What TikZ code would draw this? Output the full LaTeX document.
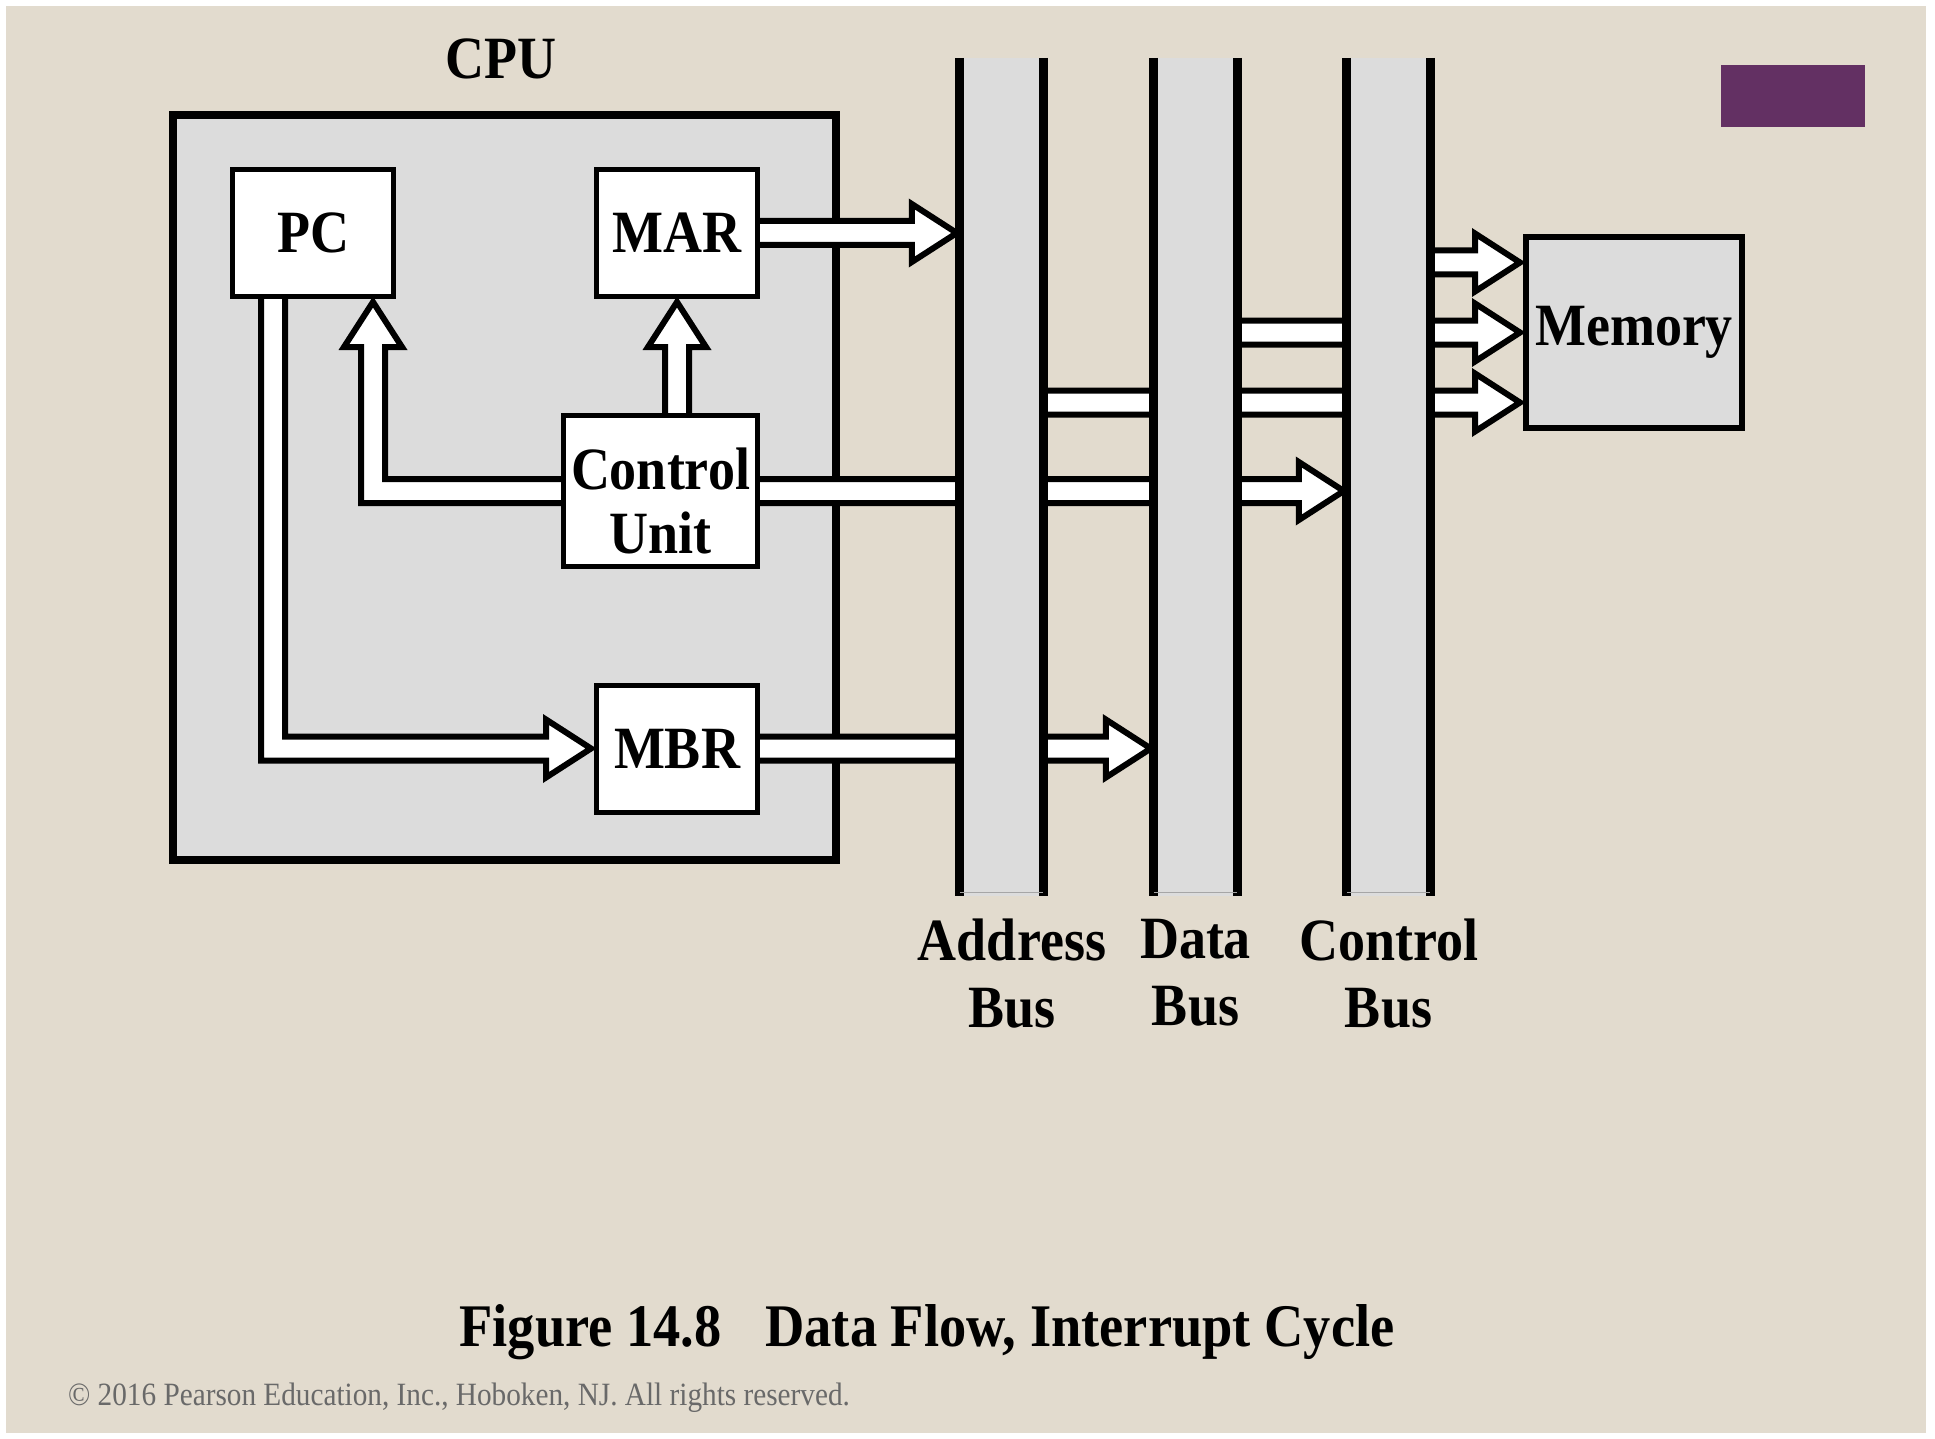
\documentclass[tikz,border=0pt]{standalone}
\usepackage{fontspec}
\setmainfont{Liberation Serif}[FakeStretch=0.9]
\usetikzlibrary{calc}
\pgfdeclarelayer{back}
\pgfdeclarelayer{flow}
\pgfsetlayers{back,flow,main}
\definecolor{paper}{RGB}{226,219,206}
\definecolor{boxgray}{RGB}{220,220,220}
\definecolor{plum}{RGB}{99,48,99}
\definecolor{notegray}{RGB}{105,105,105}

% hollow block arrows: shaft 12pt, head 29pt wide, 45pt long
\newcommand{\arrowright}[2]{%
  \draw[hollow] let \p1=(#1), \p2=(#2) in
    (\x1,\y2+12pt) -- (\x2-48pt,\y2+12pt) -- (\x2-48pt,\y2+29pt) -- (\x2-3pt,\y2)
    -- (\x2-48pt,\y2-29pt) -- (\x2-48pt,\y2-12pt) -- (\x1,\y2-12pt);}
\newcommand{\arrowup}[2]{%
  \draw[hollow] let \p1=(#1), \p2=(#2) in
    (\x2-12pt,\y1) -- (\x2-12pt,\y2-48pt) -- (\x2-29pt,\y2-48pt) -- (\x2,\y2-3pt)
    -- (\x2+29pt,\y2-48pt) -- (\x2+12pt,\y2-48pt) -- (\x2+12pt,\y1);}
\newcommand{\arrowleftup}[2]{%
  \draw[hollow] let \p1=(#1), \p2=(#2) in
    (\x1,\y1-12pt) -- (\x2-12pt,\y1-12pt) -- (\x2-12pt,\y2-48pt) -- (\x2-29pt,\y2-48pt)
    -- (\x2,\y2-3pt) -- (\x2+29pt,\y2-48pt) -- (\x2+12pt,\y2-48pt) -- (\x2+12pt,\y1+12pt)
    -- (\x1,\y1+12pt);}
\newcommand{\arrowdownright}[2]{%
  \draw[hollow] let \p1=(#1), \p2=(#2) in
    (\x1-12pt,\y1) -- (\x1-12pt,\y2-12pt) -- (\x2-48pt,\y2-12pt) -- (\x2-48pt,\y2-29pt)
    -- (\x2-3pt,\y2) -- (\x2-48pt,\y2+29pt) -- (\x2-48pt,\y2+12pt) -- (\x1+12pt,\y2+12pt)
    -- (\x1+12pt,\y1);}

\begin{document}
\begin{tikzpicture}[x=1pt, y=-1pt,
    reg/.style={rectangle, draw, line width=5pt, fill=white, inner sep=0pt,
                minimum width=161pt, minimum height=127pt, align=center,
                font=\fontsize{60}{64}\selectfont\bfseries},
    bus/.style={rectangle, fill=boxgray, inner sep=0pt,
                minimum width=83pt, minimum height=838pt},
    busline/.style={line width=9pt},
    hollow/.style={draw, fill=white, line width=6pt},
    title/.style={font=\fontsize{60}{67}\selectfont\bfseries, align=center, inner sep=0pt}
]
\useasboundingbox (0,0) rectangle (1935,1439);
\begin{pgfonlayer}{back}
\fill[white] (0,0) rectangle (1935,1439);
\fill[paper] (6,6) rectangle (1926,1433);
\node[draw, line width=8pt, fill=boxgray, inner sep=0pt,
      minimum width=663pt, minimum height=745pt] (cpu) at (504.5,487.5) {};
\end{pgfonlayer}
\fill[plum] (1721,65) rectangle (1865,127);

\node[title] (cpulabel) at (501,59) {CPU};
\node[reg] (pc) at (313,233) {PC};
\node[reg] (mar) at (677,233) {MAR};
\node[reg, minimum width=194pt, minimum height=151pt, text height=125pt] (cu) at (660.5,491) {Control\\Unit};
\node[reg] (mbr) at (677,748.5) {MBR};
\node[reg, fill=boxgray, line width=6pt, minimum width=216pt, minimum height=191pt] (mem) at (1634,332.5) {Memory};

% buses
\node[bus] (abus) at (1001.5,477) {};
\node[bus] (dbus) at (1195.5,477) {};
\node[bus] (cbus) at (1388.5,477) {};
\foreach \b in {abus,dbus,cbus} {
  \draw[busline] (\b.north west) -- (\b.south west);
  \draw[busline] (\b.north east) -- (\b.south east);
  \draw[gray!70, line width=1pt] ([yshift=4pt]\b.south west) -- ([yshift=4pt]\b.south east);
}
\node[title, anchor=north] (alabel) at (1012,919) {Address\\Bus};
\node[title, anchor=north] (dlabel) at (1195.5,919) {Data\\Bus};
\node[title, anchor=north] (clabel) at (1388.5,919) {Control\\Bus};

\coordinate (memtop) at ([yshift=70pt]mem.west);
\coordinate (membot) at ([yshift=-70pt]mem.west);
\coordinate (pcin) at ([xshift=60pt]pc.south);
\coordinate (pcout) at ([xshift=-40pt]pc.south);

\begin{pgfonlayer}{flow}
\arrowright{mar.east}{abus.west |- mar.east}
\arrowup{mar.south |- cu.north}{mar.south}
\arrowleftup{cu.west}{pcin}
\arrowdownright{pcout}{mbr.west}
\arrowright{cu.east}{cbus.west |- cu.east}
\arrowright{mbr.east}{dbus.west |- mbr.east}
\arrowright{cbus.east |- memtop}{memtop}
\arrowright{dbus.east |- mem.west}{mem.west}
\arrowright{abus.east |- membot}{membot}
\end{pgfonlayer}

\node[font=\fontsize{60.5}{66}\selectfont\bfseries, anchor=base, inner sep=0pt] (caption)
  at (927,1346) {Figure 14.8\hspace{0.5em} Data Flow, Interrupt Cycle};
\node[font=\fontsize{32.5}{36}\selectfont, text=notegray, anchor=base west, inner sep=0pt] (note)
  at (68,1405) {© 2016 Pearson Education, Inc., Hoboken, NJ. All rights reserved.};
\end{tikzpicture}
\end{document}
